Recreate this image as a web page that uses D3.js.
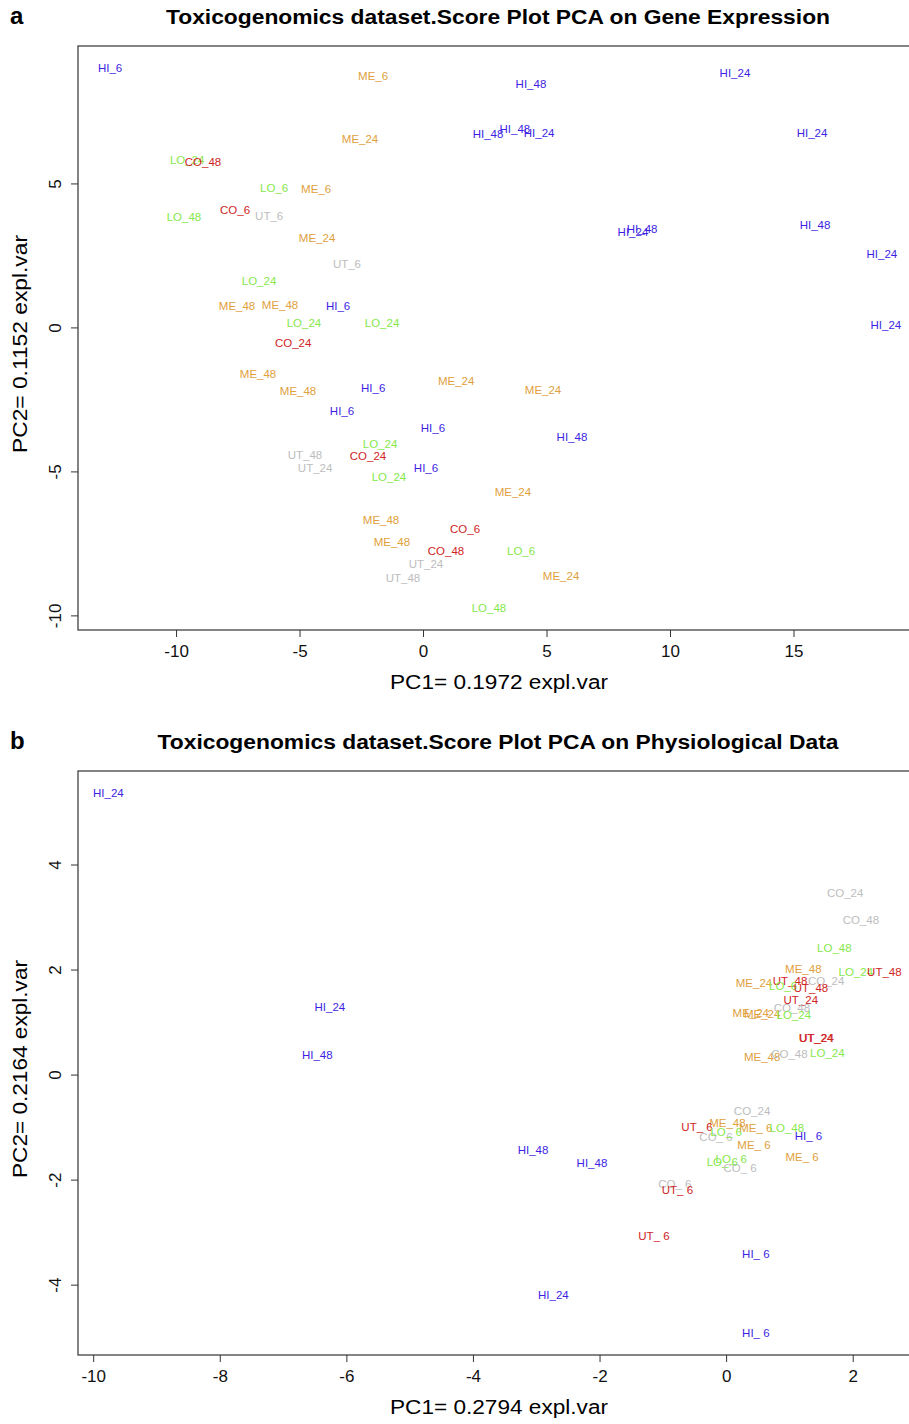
<!DOCTYPE html>
<meta http-equiv="Content-type" content="text/html; charset=UTF-8"/>
<style>
  body { margin: 0; background: #fff; }
  * { font-family: 'Liberation Sans', Arial, sans-serif; }
</style>
<svg width="909" height="1424"></svg>
<script src="https://d3js.org/d3.v7.min.js"></script>
<script>
// panel a: gene expression scores
var labelsA = ["HI_6","ME_6","HI_48","HI_24","ME_24","HI_48","HI_48","HI_24","HI_24","LO_24",
  "CO_48","LO_6","ME_6","CO_6","UT_6","LO_48","HI_24","HI_48","HI_48","ME_24",
  "UT_6","HI_24","LO_24","ME_48","ME_48","HI_6","LO_24","LO_24","HI_24","CO_24",
  "ME_48","ME_48","HI_6","ME_24","ME_24","HI_6","HI_6","HI_48","LO_24","CO_24",
  "UT_48","UT_24","HI_6","LO_24","ME_24","ME_48","CO_6","ME_48","CO_48","LO_6",
  "UT_24","UT_48","ME_24","LO_48"];
var pc1A = [-12.67,-2.02,4.37,12.63,-2.55,2.63,3.72,4.70,15.75,-9.55,
  -8.91,-6.03,-4.33,-7.61,-6.23,-9.68,8.50,8.87,15.87,-4.29,
  -3.08,18.58,-6.64,-7.53,-5.79,-3.44,-4.82,-1.66,18.74,-5.26,
  -6.68,-5.06,-2.02,1.34,4.86,-3.28,0.40,6.03,-1.74,-2.23,
  -4.78,-4.37,0.12,-1.38,3.64,-1.70,1.70,-1.26,0.93,3.97,
  0.12,-0.81,5.59,2.67];
var pc2A = [9.03,8.75,8.47,8.85,6.56,6.74,6.91,6.77,6.77,5.83,
  5.76,4.86,4.83,4.10,3.89,3.85,3.33,3.44,3.58,3.13,
  2.22,2.57,1.63,0.76,0.80,0.76,0.17,0.17,0.10,-0.52,
  -1.60,-2.19,-2.08,-1.84,-2.15,-2.88,-3.47,-3.78,-4.03,-4.44,
  -4.41,-4.86,-4.86,-5.17,-5.69,-6.67,-6.98,-7.43,-7.74,-7.74,
  -8.19,-8.68,-8.61,-9.72];

// panel b: physiological data scores
var labelsB = ["HI_24","CO_24","CO_48","LO_48","ME_48","LO_24","UT_48","ME_24","UT_48","LO_6",
  "CO_24","UT_48","UT_24","HI_24","CO_48","ME_24","ME_24","LO_24","UT_24","UT_24",
  "ME_48","CO_48","LO_24","HI_48","CO_24","ME_48","UT_ 6","CO_ 6","LO_ 6","ME_ 6",
  "LO_48","HI_ 6","ME_ 6","HI_48","LO_ 6","LO_ 6","CO_ 6","ME_ 6","HI_48","CO_ 6",
  "UT_ 6","UT_ 6","HI_ 6","HI_24","HI_ 6"];
var pc1B = [-9.76,1.88,2.13,1.71,1.22,2.05,2.50,0.44,1.01,0.90,
  1.58,1.34,1.18,-6.26,1.04,0.39,0.57,1.07,1.42,1.43,
  0.57,1.00,1.60,-6.46,0.41,0.02,-0.46,-0.16,0.00,0.47,
  0.96,1.30,0.44,-3.05,-0.06,0.08,0.22,1.20,-2.12,-0.81,
  -0.77,-1.14,0.47,-2.73,0.47];
var pc2B = [5.37,3.47,2.95,2.42,2.02,1.96,1.96,1.75,1.79,1.70,
  1.79,1.66,1.43,1.30,1.28,1.18,1.16,1.14,0.70,0.71,
  0.34,0.40,0.42,0.38,-0.69,-0.91,-0.99,-1.18,-1.09,-1.01,
  -1.01,-1.16,-1.33,-1.43,-1.66,-1.60,-1.77,-1.56,-1.68,-2.08,
  -2.19,-3.07,-3.41,-4.19,-4.90];

var ticksXA = [-10, -5, 0, 5, 10, 15], ticksYA = [-10, -5, 0, 5];
var ticksXB = [-10, -8, -6, -4, -2, 0, 2], ticksYB = [-4, -2, 0, 2, 4];

var colorsA = {HI: "#3d1fe3", ME: "#e0a03c", LO: "#86e84a", CO: "#cf2424", UT: "#bdbdbd"};
var colorsB = {HI: "#3d1fe3", ME: "#e0a03c", LO: "#86e84a", UT: "#cf2424", CO: "#bdbdbd"};

var svg = d3.select("svg");

function panel(opt) {
  var g = svg.append("g");
  var x = d3.scaleLinear().domain(opt.xdom).range([78, 916]);
  var y = d3.scaleLinear().domain(opt.ydom).range([opt.bottom, opt.top]);

  g.append("rect")
      .attr("x", 78).attr("y", opt.top)
      .attr("width", 838).attr("height", opt.bottom - opt.top)
      .attr("fill", "none").attr("stroke", "#333").attr("stroke-width", 1.2);

  var xa = g.append("g")
      .attr("transform", "translate(0," + opt.bottom + ")")
      .call(d3.axisBottom(x).tickValues(opt.ticksX).tickFormat(String)
        .tickSize(7).tickPadding(8).tickSizeOuter(0));
  xa.select(".domain").remove();
  xa.selectAll("text").attr("font-size", 17).attr("fill", "#111");
  xa.selectAll("line").attr("stroke", "#333");

  var ya = g.append("g")
      .attr("transform", "translate(78,0)")
      .call(d3.axisLeft(y).tickValues(opt.ticksY).tickFormat(String).tickSize(7).tickSizeOuter(0));
  ya.select(".domain").remove();
  ya.selectAll("line").attr("stroke", "#333");
  ya.selectAll("text")
      .attr("font-size", 17).attr("fill", "#111")
      .attr("x", 0).attr("dy", 0)
      .attr("text-anchor", "middle")
      .attr("transform", function(d) { return "translate(-17," + y(d) + ") rotate(-90)"; })
      .attr("y", 0);
  ya.selectAll(".tick").attr("transform", null);
  ya.selectAll(".tick line").attr("transform", function(d) { return "translate(0," + y(d) + ")"; });

  g.selectAll("text.lab")
      .data(opt.labels)
    .enter().append("text")
      .attr("class", "lab")
      .attr("x", function(d, i) { return x(opt.px[i]); })
      .attr("y", function(d, i) { return y(opt.py[i]); })
      .attr("dy", "0.36em")
      .attr("text-anchor", "middle")
      .attr("font-size", 11.5)
      .attr("fill", function(d) { return opt.colors[d.slice(0, 2)]; })
      .text(function(d) { return d; });

  svg.append("text")
      .attr("x", 498).attr("y", opt.top - 22)
      .attr("text-anchor", "middle")
      .attr("font-weight", "bold").attr("font-size", 20)
      .attr("textLength", opt.titleLen).attr("lengthAdjust", "spacingAndGlyphs")
      .text(opt.title);

  svg.append("text")
      .attr("x", 10).attr("y", opt.top - 22)
      .attr("font-weight", "bold").attr("font-size", 24)
      .text(opt.letter);

  svg.append("text")
      .attr("x", 499).attr("y", opt.bottom + 59)
      .attr("text-anchor", "middle").attr("font-size", 20)
      .attr("textLength", 218).attr("lengthAdjust", "spacingAndGlyphs")
      .text(opt.xlab);

  svg.append("text")
      .attr("transform", "translate(27," + ((opt.top + opt.bottom) / 2 + 6) + ") rotate(-90)")
      .attr("text-anchor", "middle").attr("font-size", 20)
      .attr("textLength", 218).attr("lengthAdjust", "spacingAndGlyphs")
      .text(opt.ylab);
}

panel({
  top: 46, bottom: 630,
  xdom: [-13.97, 19.96], ydom: [-10.49, 9.79],
  ticksX: ticksXA, ticksY: ticksYA,
  labels: labelsA, px: pc1A, py: pc2A, colors: colorsA,
  title: "Toxicogenomics dataset.Score Plot PCA on Gene Expression", titleLen: 664,
  letter: "a",
  xlab: "PC1= 0.1972 expl.var", ylab: "PC2= 0.1152 expl.var"
});

panel({
  top: 771, bottom: 1355,
  xdom: [-10.24, 3.0], ydom: [-5.33, 5.79],
  ticksX: ticksXB, ticksY: ticksYB,
  labels: labelsB, px: pc1B, py: pc2B, colors: colorsB,
  title: "Toxicogenomics dataset.Score Plot PCA on Physiological Data", titleLen: 681,
  letter: "b",
  xlab: "PC1= 0.2794 expl.var", ylab: "PC2= 0.2164 expl.var"
});
</script>
